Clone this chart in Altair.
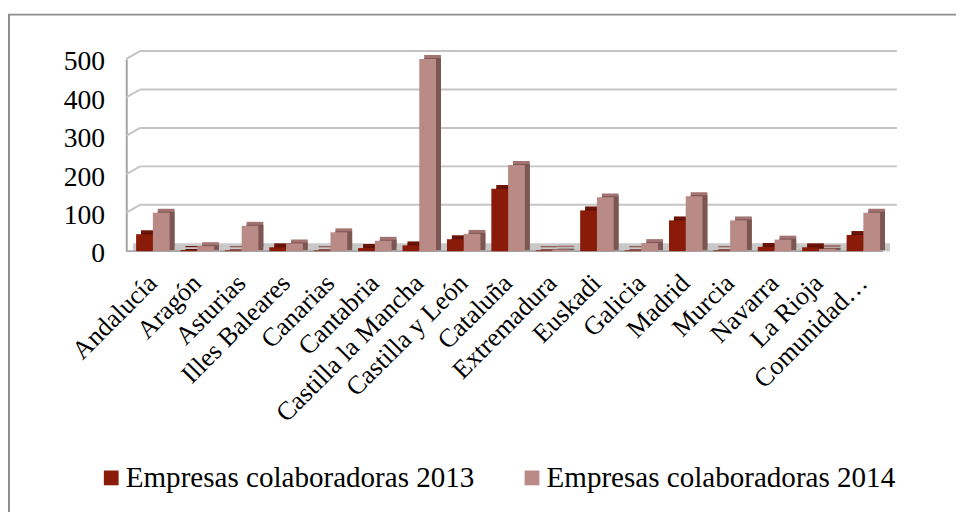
import altair as alt
import pandas as pd

regions = ["Andalucía", "Aragón", "Asturias", "Illes Baleares", "Canarias", "Cantabria",
           "Castilla la Mancha", "Castilla y León", "Cataluña", "Extremadura", "Euskadi",
           "Galicia", "Madrid", "Murcia", "Navarra", "La Rioja", "Comunidad…"]
v2013 = [44, 3, 2, 10, 2, 8, 15, 31, 162, 2, 106, 2, 80, 2, 11, 10, 42]
v2014 = [100, 13, 66, 20, 49, 27, 500, 45, 224, 4, 140, 21, 143, 80, 30, 6, 100]
series = ["Empresas colaboradoras 2013", "Empresas colaboradoras 2014"]
front_colors = ["#8A1B08", "#B98A86"]
top_colors = ["#6A1306", "#A27370"]
side_colors = ["#5A1004", "#7B5653"]
y_ticks = [0, 100, 200, 300, 400, 500]

rows = []
for r, a, b in zip(regions, v2013, v2014):
    rows.append({"region": r, "series": series[0], "value": a})
    rows.append({"region": r, "series": series[1], "value": b})
df = pd.DataFrame(rows)
grid_df = pd.DataFrame({"value": y_ticks[1:]})
zero_df = pd.DataFrame({"value": [0]})

cscale = alt.Scale(domain=series, range=front_colors)

FONT = "Liberation Serif"
W, H = 782, 195
BAR = 17

yscale = alt.Scale(domain=[0, 500], nice=False)
xscale = alt.Scale(paddingInner=0.246, paddingOuter=0.3, align=0.37)

x_enc = alt.X("region:N", sort=regions, scale=xscale,
              axis=alt.Axis(title=None, labelAngle=315, labelAlign="right",
                            labelBaseline="middle", labelFontSize=26.5, labelFont=FONT,
                            labelColor="black", labelPadding=28, ticks=False,
                            domain=False, grid=False, labelOverlap=False, labelLimit=400))
y_axis = alt.Axis(title=None, values=y_ticks, labelFontSize=28, labelFont=FONT,
                  labelColor="black", ticks=False, grid=False,
                  domainColor="#A3A3A3", domainWidth=2, labelPadding=22,
                  labelOffset=3, labelOverlap=False, labelFlush=False)


def Y(field="value:Q"):
    return alt.Y(field, scale=yscale, axis=y_axis)


front_edge = alt.Chart(zero_df).mark_rule(color="#A6A6A6", strokeWidth=2).encode(
    y=Y(), x=alt.value(0), x2=alt.value(768))

border = alt.Chart(zero_df).mark_rect(fill="white", fillOpacity=0, stroke="#8E8E8E",
                                      strokeWidth=2).encode(
    x=alt.value(-119), x2=alt.value(900), y=alt.value(-45), y2=alt.value(700))

floor = alt.Chart(zero_df).mark_rule(color="#C8C8C8", strokeWidth=8, yOffset=-4).encode(
    y=Y(), x=alt.value(7), x2=alt.value(775))

grid = alt.Chart(grid_df).mark_rule(color="#C4C4C4", strokeWidth=2, yOffset=-8).encode(
    y=Y(), x=alt.value(14), x2=alt.value(W))
conn = alt.Chart(grid_df).mark_rule(color="#C4C4C4", strokeWidth=2, y2Offset=-8).encode(
    y=Y(), y2="value:Q", x=alt.value(0), x2=alt.value(14))

legend = alt.Legend(title=None, orient="none", legendX=-30, legendY=410,
                    direction="horizontal", symbolType="square",
                    symbolSize=225, symbolStrokeWidth=0,
                    labelFontSize=29.5, labelFont=FONT, labelColor="black",
                    columnPadding=43, labelOffset=0, labelLimit=600, padding=0)

bar_layers = []
for i, s in enumerate(series):
    off = -BAR / 2 if i == 0 else BAR / 2
    b = alt.Chart(df).transform_filter(alt.datum.series == s).encode(x=x_enc, y=Y())
    bar_layers.append(b.mark_bar(width=BAR, xOffset=off + 5, yOffset=-4, y2Offset=-4,
                                 color=top_colors[i]))
    bar_layers.append(b.mark_bar(width=BAR, xOffset=off + 5, yOffset=-1, y2Offset=-1,
                                 color=side_colors[i]))
    bar_layers.append(b.mark_bar(width=BAR, xOffset=off).encode(
        color=alt.Color("series:N", scale=cscale, legend=legend)))

chart = alt.layer(border, floor, grid, conn, front_edge, *bar_layers).properties(
    width=W, height=H,
    autosize=alt.AutoSizeParams(type="none"),
    padding={"left": 120, "top": 48, "right": 60, "bottom": 261},
).configure(background="white", view=alt.ViewConfig(stroke=None))

chart.save("out.html", embed_options={"renderer": "svg", "actions": False})
